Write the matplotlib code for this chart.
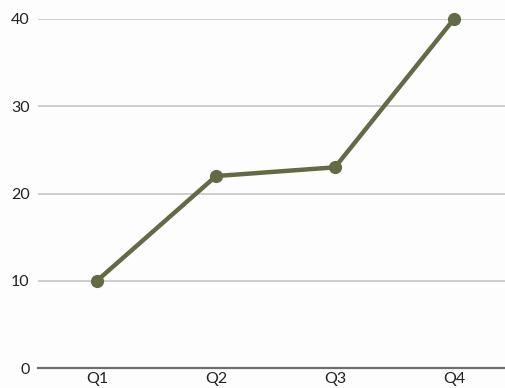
import matplotlib
matplotlib.use("Agg")
import matplotlib.pyplot as plt

quarters = ["Q1", "Q2", "Q3", "Q4"]
values = [10, 22, 23, 40]
y_ticks = [0, 10, 20, 30, 40]

line_color = "#636b46"

fig = plt.figure(figsize=(5.06, 3.88), dpi=100, facecolor="#fdfdfd")
ax = fig.add_axes([38 / 506, 20 / 388, 468 / 506, 349 / 388])
ax.set_facecolor("#fdfdfd")

x = list(range(len(quarters)))
ax.plot(x, values, color=line_color, linewidth=3.2, marker="o", markersize=8.5,
        clip_on=False, zorder=3)

ax.set_xlim(-0.496, 3.437)
ax.set_ylim(0, 40)
ax.set_xticks(x)
ax.set_xticklabels(quarters)
ax.set_yticks(y_ticks)

for s in ["top", "right", "left"]:
    ax.spines[s].set_visible(False)
ax.spines["bottom"].set_color("#6e6e6e")
ax.spines["bottom"].set_linewidth(1.6)

ax.yaxis.grid(True, color="#c2c2c2", linewidth=1.1)
ax.set_axisbelow(True)
ax.tick_params(axis="both", length=0, labelsize=11.5, colors="#222222", pad=6)
ax.tick_params(axis="x", pad=3)
for lab in ax.get_xticklabels() + ax.get_yticklabels():
    lab.set_family(["Lato", "DejaVu Sans"])

fig.savefig("out.png", dpi=100, facecolor=fig.get_facecolor())
